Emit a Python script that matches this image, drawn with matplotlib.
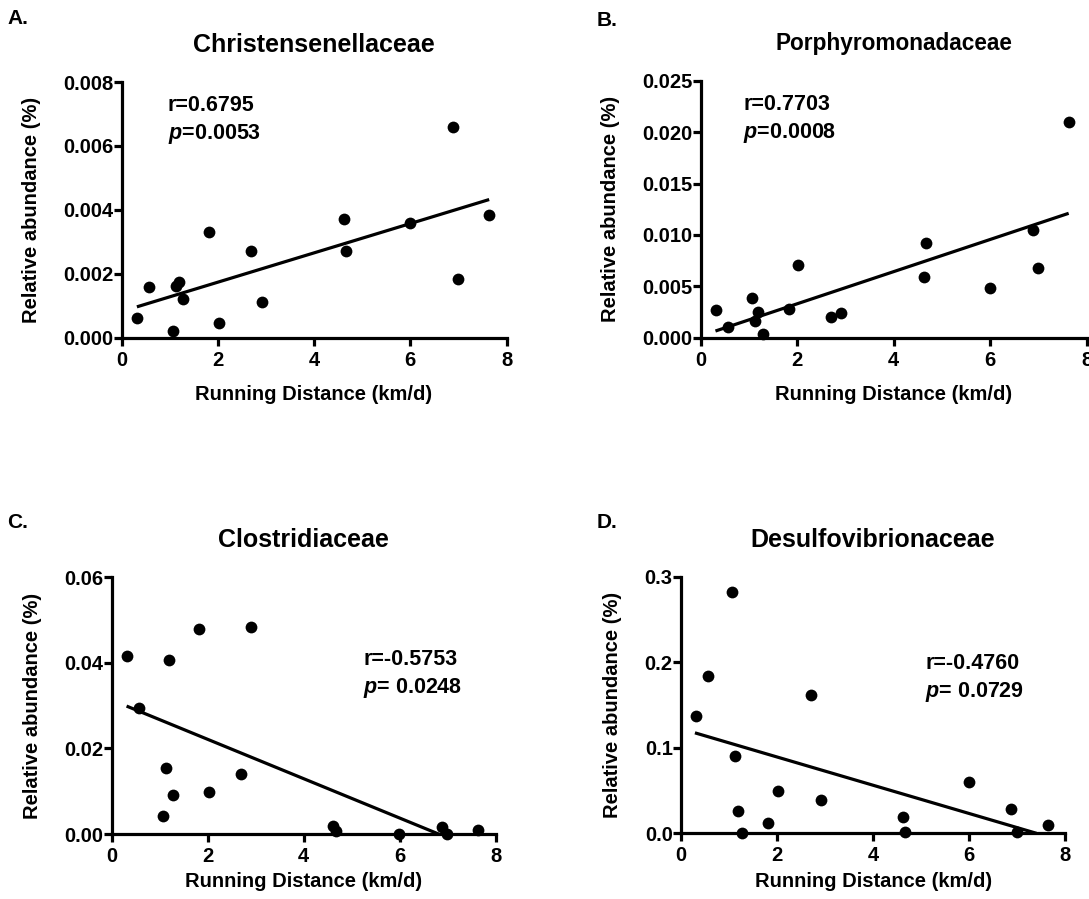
import numpy as np
import matplotlib
matplotlib.use("Agg")
import matplotlib.pyplot as plt

plt.rcParams['font.family'] = ['Liberation Sans', 'DejaVu Sans']
plt.rcParams['font.weight'] = 'bold'
plt.rcParams['mathtext.fontset'] = 'custom'
plt.rcParams['mathtext.it'] = 'Liberation Sans:italic:bold'
plt.rcParams['mathtext.rm'] = 'Liberation Sans:bold'
plt.rcParams['mathtext.bf'] = 'Liberation Sans:bold'

# ---------------- data ----------------
distance = [0.32, 0.57, 1.06, 1.13, 1.19, 1.28, 1.82, 2.02, 2.70, 2.91,
            4.62, 4.67, 5.99, 6.88, 6.99, 7.64]

christensenellaceae = [0.00062, 0.00157, 0.00020, 0.00162, 0.00173, 0.00122,
                       0.00331, 0.00046, 0.00271, 0.00111, 0.00371, 0.00271,
                       0.00359, 0.00660, 0.00184, 0.00382]
porphyromonadaceae = [0.00266, 0.00104, 0.00383, 0.00159, 0.00246, 0.00032,
                      0.00282, 0.00704, 0.00198, 0.00237, 0.00590, 0.00924,
                      0.00483, 0.01047, 0.00678, 0.02095]
clostridiaceae = [0.0416, 0.0295, 0.0041, 0.0155, 0.0407, 0.0091,
                  0.0480, 0.0099, 0.0141, 0.0483, 0.0019, 0.0006,
                  0.0000, 0.0016, 0.0000, 0.0009]
desulfovibrionaceae = [0.1375, 0.1836, 0.2824, 0.0902, 0.0258, 0.0000,
                       0.0117, 0.0496, 0.1617, 0.0395, 0.0191, 0.0020,
                       0.0605, 0.0285, 0.0020, 0.0098]

# regression line end points (x, y)
fit_A = [[0.32, 7.64], [0.00096, 0.00432]]
fit_B = [[0.30, 7.63], [0.00065, 0.01210]]
fit_C = [[0.31, 6.81], [0.0299, 0.0]]
fit_D = [[0.29, 7.40], [0.1176, 0.0]]

titles = ["Christensenellaceae", "Porphyromonadaceae", "Clostridiaceae", "Desulfovibrionaceae"]
letters = ["A.", "B.", "C.", "D."]
r_texts = ["r=0.6795", "r=0.7703", "r=-0.5753", "r=-0.4760"]
p_texts = ["=0.0053", "=0.0008", "= 0.0248", "= 0.0729"]
y_ticks_A = [0.000, 0.002, 0.004, 0.006, 0.008]
y_ticks_B = [0.000, 0.005, 0.010, 0.015, 0.020, 0.025]
y_ticks_C = [0.00, 0.02, 0.04, 0.06]
y_ticks_D = [0.0, 0.1, 0.2, 0.3]
y_fmt = ["{:.3f}", "{:.3f}", "{:.2f}", "{:.1f}"]
x_ticks = [0, 2, 4, 6, 8]

# ---------------- layout ----------------
W, H = 1089, 899
fig = plt.figure(figsize=(W / 100, H / 100), dpi=100)

rects_px = [  # left, right, top, bottom (pixels)
    (121.5, 506.5, 82.0, 337.5),
    (701.0, 1086.5, 80.7, 337.7),
    (111.7, 495.7, 577.3, 834.0),
    (681.0, 1065.3, 577.0, 833.3),
]
letter_pos = [(7, 19), (597, 20), (7, 522), (597, 523)]
text_pos = [(0.12, 0.95), (0.11, 0.95), (0.655, 0.72), (0.635, 0.705)]
title_sizes = [18, 16.3, 18, 18]
xlabel_pads = [11, 11, 4.5, 4.5]

series = [christensenellaceae, porphyromonadaceae, clostridiaceae, desulfovibrionaceae]
fits = [fit_A, fit_B, fit_C, fit_D]
yticks_all = [y_ticks_A, y_ticks_B, y_ticks_C, y_ticks_D]

LW = 2.3
for i in range(4):
    l, r, t, b = rects_px[i]
    ax = fig.add_axes([l / W, 1 - b / H, (r - l) / W, (b - t) / H])
    yt = yticks_all[i]
    ax.scatter(distance, series[i], s=72, color='black', zorder=3, clip_on=False,
               linewidths=0)
    ax.plot(fits[i][0], fits[i][1], color='black', lw=LW, solid_capstyle='butt', zorder=2)
    ax.set_xlim(0, 8)
    ax.set_ylim(yt[0], yt[-1])
    ax.set_xticks(x_ticks)
    ax.set_xticklabels([str(v) for v in x_ticks])
    ax.set_yticks(yt)
    ax.set_yticklabels([y_fmt[i].format(v) for v in yt])
    for s in ['top', 'right']:
        ax.spines[s].set_visible(False)
    for s in ['left', 'bottom']:
        ax.spines[s].set_linewidth(LW)
        ax.spines[s].set_capstyle('projecting')
    ax.tick_params(axis='both', direction='out', length=5.5, width=LW,
                   labelsize=14.5)
    ax.tick_params(axis='y', pad=0.5)
    ax.tick_params(axis='x', pad=4)
    for lab in ax.get_xticklabels() + ax.get_yticklabels():
        lab.set_fontweight('bold')
    ax.set_xlabel("Running Distance (km/d)", fontsize=14.5, fontweight='bold',
                  labelpad=xlabel_pads[i])
    ax.set_ylabel("Relative abundance (%)", fontsize=14.5, fontweight='bold', labelpad=16)
    # title and letter
    fig.text((l + r) / 2 / W, 1 - (t - 37) / H, titles[i], ha='center', va='center',
             fontsize=title_sizes[i], fontweight='bold')
    fig.text(letter_pos[i][0] / W, 1 - letter_pos[i][1] / H, letters[i], ha='left',
             va='center', fontsize=15, fontweight='bold')
    tx, ty = text_pos[i]
    ax.text(tx, ty, r_texts[i], transform=ax.transAxes, ha='left', va='top',
            fontsize=15.5, fontweight='bold')
    ax.text(tx, ty - 0.105, r"$\mathit{p}$" + p_texts[i], transform=ax.transAxes,
            ha='left', va='top', fontsize=15.5, fontweight='bold')

fig.savefig("out.png", dpi=100)
